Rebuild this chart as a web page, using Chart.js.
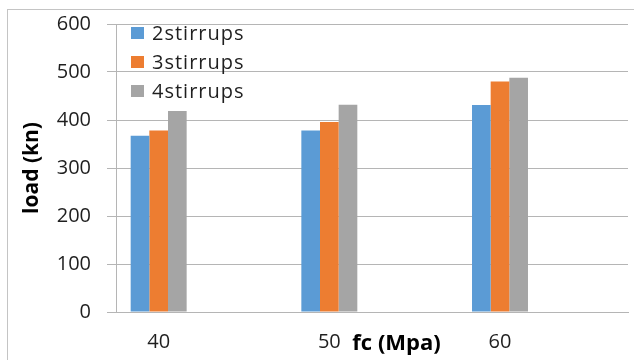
<!DOCTYPE html>
<html>
<head>
<meta charset="utf-8">
<script src="https://cdn.jsdelivr.net/npm/chart.js@4/dist/chart.umd.min.js"></script>
<style>
  html, body { margin: 0; padding: 0; background: #ffffff; }
  #wrap { width: 634px; height: 360px; position: relative; }
</style>
</head>
<body>
<div id="wrap"><canvas id="chart" width="634" height="360"></canvas></div>
<script>
// Concrete strength (MPa) on the x axis
const categories = [40, 50, 60];
const seriesNames = ['2stirrups', '3stirrups', '4stirrups'];
// Failure load (kN) per stirrup count
const stirrups2 = [367, 378, 431];
const stirrups3 = [378, 396, 480];
const stirrups4 = [419, 432, 488];
const yTicks = [0, 100, 200, 300, 400, 500, 600];
const xTitle = 'fc (Mpa)';
const yTitle = 'load (kn)';

const seriesValues = [stirrups2, stirrups3, stirrups4];
const seriesColors = ['#5B9BD5', '#ED7D31', '#A5A5A5'];

const TEXT_FONT = '"Open Sans", "Liberation Sans", sans-serif';
const GRID = '#b5b5b5';

const datasets = seriesNames.map((name, s) => ({
  label: name,
  data: categories.map((c, i) => ({ x: c, y: seriesValues[s][i] })),
  backgroundColor: seriesColors[s],
  borderColor: seriesColors[s],
  borderWidth: 0,
  categoryPercentage: 0.328,
  barPercentage: 1.0
}));

// Outer frame of the chart object
const framePlugin = {
  id: 'frame',
  beforeDraw(chart) {
    const ctx = chart.ctx;
    ctx.save();
    ctx.strokeStyle = '#c4c4c4';
    ctx.lineWidth = 1;
    ctx.strokeRect(7.5, 9.5, 800, 600);
    ctx.restore();
  }
};

// Legend drawn inside the plot area, top-left
const innerLegend = {
  id: 'innerLegend',
  afterDatasetsDraw(chart) {
    const ctx = chart.ctx;
    const area = chart.chartArea;
    ctx.save();
    ctx.font = '20px ' + TEXT_FONT;
    ctx.textBaseline = 'middle';
    ctx.textAlign = 'left';
    if ('letterSpacing' in ctx) ctx.letterSpacing = '1px';
    chart.data.datasets.forEach((ds, i) => {
      const cy = area.top + 9 + i * 29;
      const sx = area.left + 15;
      ctx.fillStyle = ds.backgroundColor;
      ctx.fillRect(sx, cy - 6, 13, 12);
      ctx.fillStyle = '#1f1f1f';
      ctx.fillText(ds.label, sx + 21, cy + 1);
    });
    ctx.restore();
  }
};

// Horizontal axis title placed beside the middle category label
const xTitlePlugin = {
  id: 'xTitleLabel',
  afterDraw(chart) {
    const ctx = chart.ctx;
    const xs = chart.scales.x;
    ctx.save();
    ctx.font = 'bold 22px ' + TEXT_FONT;
    ctx.fillStyle = '#000000';
    ctx.textAlign = 'left';
    ctx.textBaseline = 'middle';
    ctx.fillText(xTitle, xs.getPixelForValue(categories[1]) + 23, xs.bottom - 16);
    ctx.restore();
  }
};

new Chart(document.getElementById('chart'), {
  type: 'bar',
  data: { datasets },
  options: {
    responsive: false,
    animation: false,
    devicePixelRatio: 1,
    layout: { padding: { left: 0, right: 6, top: 24, bottom: 0 } },
    plugins: {
      legend: { display: false },
      tooltip: { enabled: false }
    },
    scales: {
      x: {
        type: 'linear',
        offset: false,
        min: 37.5,
        max: 67.5,
        afterBuildTicks(scale) {
          scale.ticks = categories.map(v => ({ value: v }));
        },
        afterFit(scale) {
          scale.height = 48;
          scale.paddingLeft = 0;
          scale.paddingRight = 0;
        },
        grid: { display: false, drawTicks: false },
        border: { display: true, color: GRID, width: 1 },
        ticks: {
          padding: 18,
          color: '#1f1f1f',
          font: { family: TEXT_FONT, size: 20 },
          maxRotation: 0,
          autoSkip: false,
          callback: v => String(v)
        }
      },
      y: {
        min: yTicks[0],
        max: yTicks[yTicks.length - 1],
        afterBuildTicks(scale) {
          scale.ticks = yTicks.map(v => ({ value: v }));
        },
        afterFit(scale) {
          scale.width = 116;
          scale.paddingTop = 0;
          scale.paddingBottom = 0;
        },
        grid: { color: GRID, lineWidth: 1, tickLength: 9, drawTicks: true, tickColor: GRID },
        border: { display: true, color: GRID, width: 1 },
        ticks: {
          padding: 16,
          color: '#1f1f1f',
          font: { family: TEXT_FONT, size: 20 }
        },
        title: {
          display: true,
          text: yTitle,
          color: '#000000',
          font: { family: TEXT_FONT, size: 21, weight: 'bold' },
          padding: { top: 19, bottom: 0 }
        }
      }
    }
  },
  plugins: [framePlugin, innerLegend, xTitlePlugin]
});
</script>
</body>
</html>
